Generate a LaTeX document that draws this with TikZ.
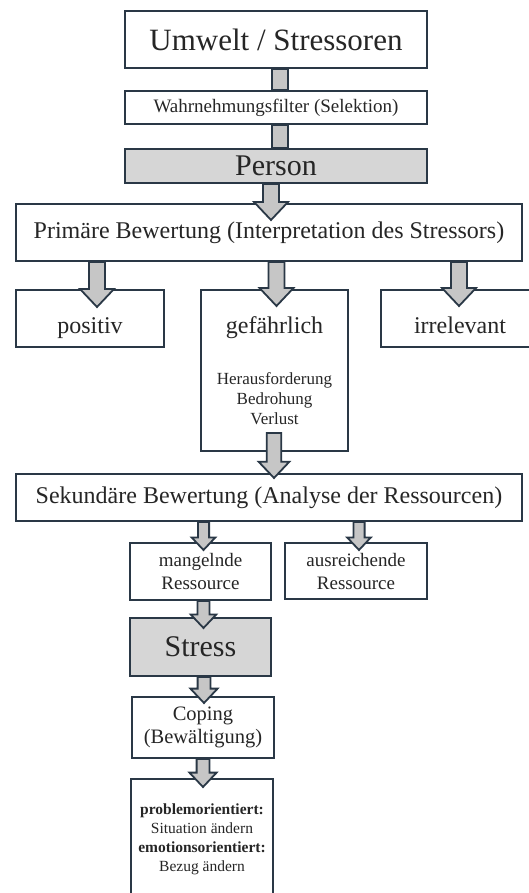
\documentclass[tikz,border=0pt]{standalone}
\usepackage{fontspec}
\setmainfont{Liberation Serif}
\usetikzlibrary{calc}
\definecolor{boxline}{RGB}{42,56,70}
\definecolor{arrowfill}{RGB}{198,198,198}
\definecolor{keyfill}{RGB}{214,214,214}
\tikzset{
  stage/.style={draw=boxline, line width=2pt, fill=white, inner sep=0pt, align=center, text=black!85},
  keystage/.style={stage, fill=keyfill},
  lowtext/.style={text height=34pt, text depth=5pt},
  flow/.style={draw=boxline, line width=1.8pt, fill=arrowfill, line join=miter},
}
% block arrow: [size] start, tip (x is taken from the tip)
\newcommand{\flowarrow}[3][1]{%
  \draw[flow] let \p1=#2, \p2=#3 in
    (\x2-8pt*#1,\y1) -- (\x2-8pt*#1,\y2+18pt*#1) -- (\x2-17pt*#1,\y2+18pt*#1) -- (\x2,\y2)
    -- (\x2+17pt*#1,\y2+18pt*#1) -- (\x2+8pt*#1,\y2+18pt*#1) -- (\x2+8pt*#1,\y1) -- cycle;}
% plain bar between two boxes
\newcommand{\flowbar}[2]{%
  \draw[flow] let \p1=#1, \p2=#2 in (\x2-8pt,\y1) rectangle (\x2+8pt,\y2);}
\begin{document}
\begin{tikzpicture}[x=1pt,y=-1pt]
\useasboundingbox (0,0) rectangle (528,893);
\node[stage, minimum width=302, minimum height=57, font=\fontsize{31}{36}\selectfont] (umwelt) at (276,39.5) {Umwelt / Stressoren};
\node[stage, minimum width=302, minimum height=33, font=\fontsize{19}{22}\selectfont] (filter) at (276,107.5) {Wahrnehmungsfilter (Selektion)};
\node[keystage, minimum width=302, minimum height=34, font=\fontsize{30}{34}\selectfont] (person) at (276,166) {Person};
\node[stage, minimum width=506, minimum height=57, font=\fontsize{24}{28}\selectfont] (primary) at (269,232.5) {Primäre Bewertung (Interpretation des Stressors)};
\node[stage, lowtext, minimum width=148, minimum height=57, font=\fontsize{24}{28}\selectfont] (positiv) at (90,318.5) {positiv};
\node[stage, minimum width=147, minimum height=161, font=\fontsize{17}{20}\selectfont] (danger) at (274.5,370.5)
  {{\fontsize{24}{28}\selectfont gefährlich}\\[31pt]Herausforderung\\Bedrohung\\Verlust};
\node[stage, lowtext, minimum width=158, minimum height=57, font=\fontsize{24}{28}\selectfont] (irrelevant) at (460,318.5) {irrelevant};
\node[stage, minimum width=506, minimum height=47, font=\fontsize{24}{28}\selectfont] (secondary) at (269,497.5) {Sekundäre Bewertung (Analyse der Ressourcen)};
\node[stage, minimum width=141, minimum height=57, font=\fontsize{19}{23}\selectfont] (lacking) at (200.5,571.5) {mangelnde\\Ressource};
\node[stage, minimum width=142, minimum height=56, font=\fontsize{19}{23}\selectfont] (sufficient) at (356,571) {ausreichende\\Ressource};
\node[keystage, minimum width=141, minimum height=58, font=\fontsize{30}{34}\selectfont] (stress) at (200.5,647) {Stress};
\node[stage, minimum width=142, minimum height=61, font=\fontsize{20.5}{23}\selectfont] (coping) at (203,727.5) {Coping\\(Bewältigung)};
\node[stage, minimum width=142, minimum height=120, font=\fontsize{15.5}{19}\selectfont] (strategies) at (202,839)
  {\textbf{problemorientiert:}\\Situation ändern\\\textbf{emotionsorientiert:}\\Bezug ändern};
% connectors
\flowbar{(umwelt.south)}{($(filter.north)+(4,0)$)}
\flowbar{(filter.south)}{($(person.north)+(4,0)$)}
\flowarrow{(person.south)}{($(primary.north)+(2,17)$)}
\flowarrow{(primary.south)}{($(positiv.north)+(7,18)$)}
\flowarrow{(primary.south)}{($(danger.north)+(2,17)$)}
\flowarrow{(primary.south)}{($(irrelevant.north)+(-1,17)$)}
\flowarrow[0.9]{($(danger.south)+(0,-19)$)}{($(secondary.north)+(5,5)$)}
\flowarrow[0.7]{(secondary.south)}{($(lacking.north)+(3,8)$)}
\flowarrow[0.7]{(secondary.south)}{($(sufficient.north)+(3,8)$)}
\flowarrow[0.75]{(lacking.south)}{($(stress.north)+(3,11)$)}
\flowarrow[0.8]{(stress.south)}{($(coping.north)+(1,7)$)}
\flowarrow[0.8]{(coping.south)}{($(strategies.north)+(1,9)$)}
\end{tikzpicture}
\end{document}
